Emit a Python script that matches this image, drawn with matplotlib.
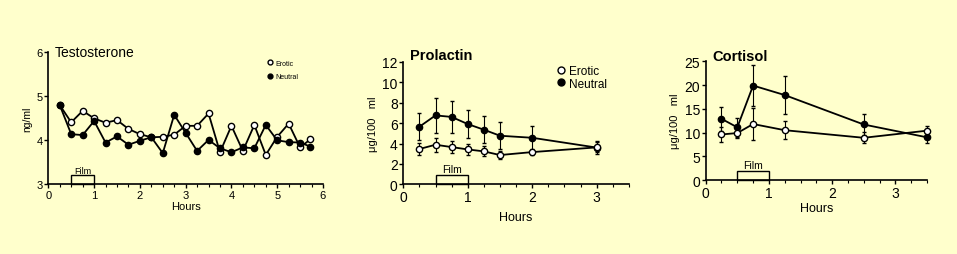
import numpy as np
import matplotlib
matplotlib.use("Agg")
import matplotlib.pyplot as plt
from matplotlib.ticker import MultipleLocator
from matplotlib.patches import Rectangle
from matplotlib.lines import Line2D

plt.rcParams["font.family"] = ["Liberation Sans", "DejaVu Sans"]

# Testosterone (ng/ml)
t_hours = [0.25, 0.5, 0.75, 1.0, 1.25, 1.5, 1.75, 2.0, 2.25, 2.5, 2.75, 3.0,
           3.25, 3.5, 3.75, 4.0, 4.25, 4.5, 4.75, 5.0, 5.25, 5.5, 5.72]
t_erotic = [4.8, 4.41, 4.67, 4.5, 4.4, 4.46, 4.26, 4.14, 4.07, 4.08, 4.13, 4.33,
            4.33, 4.61, 3.73, 4.33, 3.76, 4.35, 3.67, 4.08, 4.38, 3.84, 4.02]
t_neutral = [4.8, 4.14, 4.12, 4.44, 3.95, 4.09, 3.9, 3.99, 4.07, 3.71, 4.58, 4.17,
             3.76, 4.01, 3.82, 3.73, 3.84, 3.82, 4.35, 4.0, 3.96, 3.95, 3.86]

# Prolactin (ug/100 ml)
p_hours = [0.25, 0.5, 0.75, 1.0, 1.25, 1.5, 2.0, 3.0]
p_erotic = [3.46, 3.88, 3.65, 3.42, 3.23, 2.87, 3.16, 3.62]
p_erotic_err = [0.6, 0.7, 0.6, 0.5, 0.5, 0.4, 0.3, 0.5]
p_neutral = [5.64, 6.75, 6.6, 5.9, 5.35, 4.76, 4.56, 3.6]
p_neutral_err = [1.3, 1.75, 1.6, 1.4, 1.3, 1.3, 1.2, 0.6]

# Cortisol (ug/100 ml)
c_hours = [0.25, 0.5, 0.75, 1.25, 2.5, 3.5]
c_erotic = [9.6, 9.9, 11.8, 10.5, 8.9, 10.4]
c_erotic_err = [1.5, 1.0, 3.4, 1.9, 1.2, 1.0]
c_neutral = [12.9, 11.1, 19.9, 17.9, 11.7, 9.0]
c_neutral_err = [2.5, 2.0, 4.3, 4.0, 2.2, 1.2]

film_start, film_end = 0.5, 1.0
bg = "#ffffcc"

fig = plt.figure(figsize=(9.57, 2.55), dpi=100, facecolor=bg)


def style_axes(ax, fs):
    ax.set_facecolor(bg)
    ax.spines["top"].set_visible(False)
    ax.spines["right"].set_visible(False)
    for s in ("left", "bottom"):
        ax.spines[s].set_linewidth(1.2)
    ax.tick_params(axis="both", direction="out", length=3, width=1, labelsize=fs, pad=1)
    ax.tick_params(axis="x", which="minor", direction="out", length=2, width=0.8)
    ax.xaxis.set_minor_locator(MultipleLocator(0.25))


def film_box(ax, height, text_y, fs):
    ax.add_patch(Rectangle((film_start, ax.get_ylim()[0]), film_end - film_start, height,
                           fill=False, edgecolor="black", linewidth=1, clip_on=False))
    ax.text((film_start + film_end) / 2, text_y, "Film", ha="center", va="bottom", fontsize=fs)


def legend_handles(ms):
    return [Line2D([], [], linestyle="none", marker="o", color="black", markerfacecolor="white",
                   markersize=ms, markeredgewidth=1),
            Line2D([], [], linestyle="none", marker="o", color="black", markerfacecolor="black",
                   markersize=ms, markeredgewidth=1)]


line_kw = dict(color="black", linewidth=1.3, markersize=4.5, markeredgewidth=1, clip_on=False)

# Testosterone
ax1 = fig.add_axes([0.0505, 0.273, 0.287, 0.518])
ax1.plot(t_hours, t_erotic, "o-", markerfacecolor="white", **line_kw)
ax1.plot(t_hours, t_neutral, "o-", markerfacecolor="black", **line_kw)
ax1.set_xlim(0, 6)
ax1.set_ylim(3, 6)
ax1.set_xticks(range(7))
ax1.set_yticks([3, 4, 5, 6])
style_axes(ax1, 8)
ax1.set_xlabel("Hours", fontsize=8, labelpad=1)
ax1.set_ylabel("ng/ml", fontsize=7.5, labelpad=3)
film_box(ax1, 0.21, 3.22, 6.5)
ax1.text(0.15, 6.0, "Testosterone", fontsize=10, va="center")
ax1.legend(legend_handles(3.5), ["Erotic", "Neutral"], loc="upper left",
           bbox_to_anchor=(0.775, 0.99), frameon=False, fontsize=5,
           handlelength=0.6, handletextpad=0.5, labelspacing=0.9)

# Prolactin
ax2 = fig.add_axes([0.4214, 0.273, 0.2358, 0.481])
ax2.errorbar(p_hours, p_neutral, yerr=p_neutral_err, fmt="o-", markerfacecolor="black",
             capsize=1.5, elinewidth=0.8, zorder=3, **line_kw)
ax2.errorbar(p_hours, p_erotic, yerr=p_erotic_err, fmt="o-", markerfacecolor="white",
             capsize=1.5, elinewidth=0.8, zorder=4, **line_kw)
ax2.set_xlim(0, 3.5)
ax2.set_ylim(0, 12)
ax2.set_xticks([0, 1, 2, 3])
ax2.set_yticks(range(0, 13, 2))
style_axes(ax2, 10)
ax2.set_xlabel("Hours", fontsize=9, labelpad=5)
ax2.set_ylabel("μg/100   ml", fontsize=8, labelpad=3)
film_box(ax2, 0.9, 1.05, 7.5)
ax2.text(0.1, 12.7, "Prolactin", fontsize=10.5, fontweight="bold", va="center")
ax2.legend(legend_handles(5), ["Erotic", "Neutral"], loc="upper left",
           bbox_to_anchor=(0.635, 1.06), frameon=False, fontsize=8.5,
           handlelength=0.6, handletextpad=0.4, labelspacing=0.05)

# Cortisol
ax3 = fig.add_axes([0.7374, 0.290, 0.2312, 0.4655])
ax3.errorbar(c_hours, c_neutral, yerr=c_neutral_err, fmt="o-", markerfacecolor="black",
             capsize=1.5, elinewidth=0.8, zorder=3, **line_kw)
ax3.errorbar(c_hours, c_erotic, yerr=c_erotic_err, fmt="o-", markerfacecolor="white",
             capsize=1.5, elinewidth=0.8, zorder=4, **line_kw)
ax3.set_xlim(0, 3.5)
ax3.set_ylim(0, 25)
ax3.set_xticks([0, 1, 2, 3])
ax3.set_yticks(range(0, 26, 5))
style_axes(ax3, 10)
ax3.set_xlabel("Hours", fontsize=9, labelpad=2)
ax3.set_ylabel("μg/100   ml", fontsize=8, labelpad=3)
film_box(ax3, 1.9, 2.1, 7.5)
ax3.text(0.1, 26.2, "Cortisol", fontsize=10.5, fontweight="bold", va="center")

fig.savefig("out.png", dpi=100, facecolor=bg)
